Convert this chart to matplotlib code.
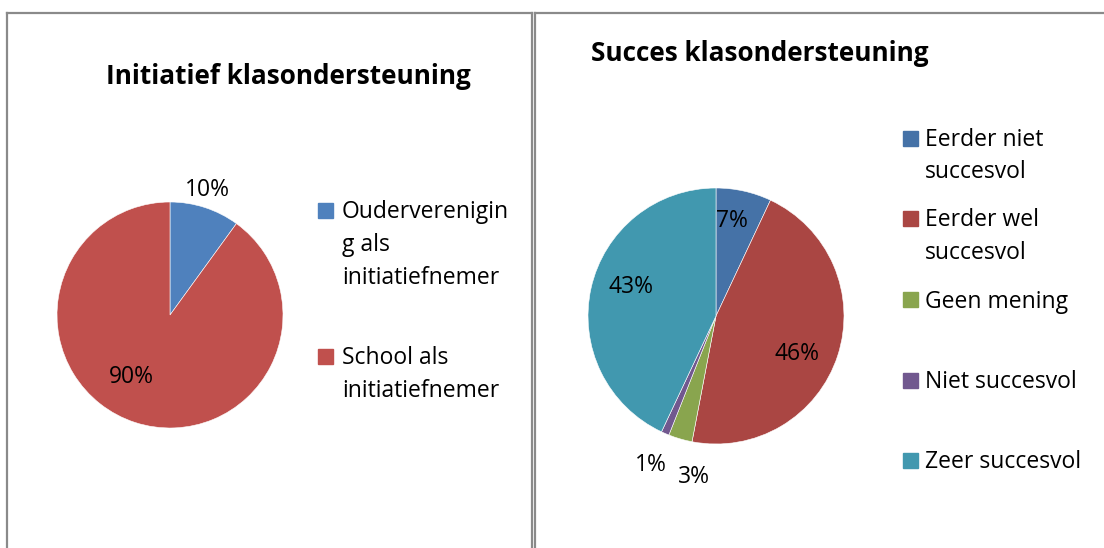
import matplotlib
matplotlib.use("Agg")
import matplotlib.pyplot as plt
from matplotlib.lines import Line2D
from matplotlib.patches import Rectangle

plt.rcParams["font.family"] = ["Open Sans", "DejaVu Sans"]

# data
left_title = "Initiatief klasondersteuning"
left_labels = ["Ouderverenigin\ng als\ninitiatiefnemer", "School als\ninitiatiefnemer"]
left_values = [10, 90]
left_colors = ["#4F81BD", "#C0504D"]

right_title = "Succes klasondersteuning"
right_labels = ["Eerder niet\nsuccesvol", "Eerder wel\nsuccesvol", "Geen mening",
                "Niet succesvol", "Zeer succesvol"]
right_values = [7, 46, 3, 1, 43]
right_colors = ["#4572A7", "#AA4643", "#89A54E", "#71588F", "#4198AF"]

W, H = 1104, 548
fig = plt.figure(figsize=(W / 100, H / 100), dpi=100)
fig.patch.set_facecolor("white")

TXT = 16.5
TITLE = 18.8


def fx(x):
    return x / W


def fy(y):
    return 1 - y / H


# panel frames
frame_color = "#8a8a8a"
for xs, ys in [([7, 7], [548, 13]), ([7, 532], [13, 13]), ([532, 532], [13, 548]),
               ([535, 535], [548, 13]), ([535, 1104], [13, 13])]:
    fig.add_artist(Line2D([fx(v) for v in xs], [fy(v) for v in ys],
                          color=frame_color, lw=1.6, transform=fig.transFigure))


def draw_pie(cx, cy, r, values, colors, label_px):
    ax = fig.add_axes([fx(cx - r), fy(cy + r), 2 * r / W, 2 * r / H])
    wedges, texts, autotexts = ax.pie(
        values, colors=colors, startangle=90, counterclock=False, radius=1,
        autopct=lambda p: f"{p:.0f}%",
        wedgeprops={"edgecolor": "white", "linewidth": 0.4},
        textprops={"fontsize": TXT, "color": "black"},
    )
    ax.set_xlim(-1, 1)
    ax.set_ylim(-1, 1)
    ax.set_aspect("auto")
    ax.axis("off")
    for t, (px, py) in zip(autotexts, label_px):
        t.set_position(((px - cx) / r, (cy - py) / r))
        t.set_ha("center")
        t.set_va("center")
        t.set_clip_on(False)
    return ax


def draw_legend(sq_x, text_x, tops, labels, colors, line_step):
    for top, lab, col in zip(tops, labels, colors):
        fig.add_artist(Rectangle((fx(sq_x), fy(top + 15)), 15 / W, 15 / H,
                                 color=col, transform=fig.transFigure))
        for i, line in enumerate(lab.split("\n")):
            fig.text(fx(text_x), fy(top + 15.5 + i * line_step), line,
                     fontsize=TXT, ha="left", va="baseline")


# left chart
fig.text(fx(288), fy(84), left_title, fontsize=TITLE, fontweight="bold",
         ha="center", va="baseline")
draw_pie(170, 315, 113, left_values, left_colors, [(207, 190), (131, 377)])
draw_legend(318, 342, [203, 349], left_labels, left_colors, 32.5)

# right chart
fig.text(fx(760), fy(61), right_title, fontsize=TITLE, fontweight="bold",
         ha="center", va="baseline")
draw_pie(716, 316, 128, right_values, right_colors,
         [(732, 221), (797, 354), (694, 477), (651, 465), (631, 287)])
draw_legend(903, 925, [131, 211, 292, 373, 453], right_labels, right_colors, 32)

fig.savefig("out.png", dpi=100, facecolor="white")
